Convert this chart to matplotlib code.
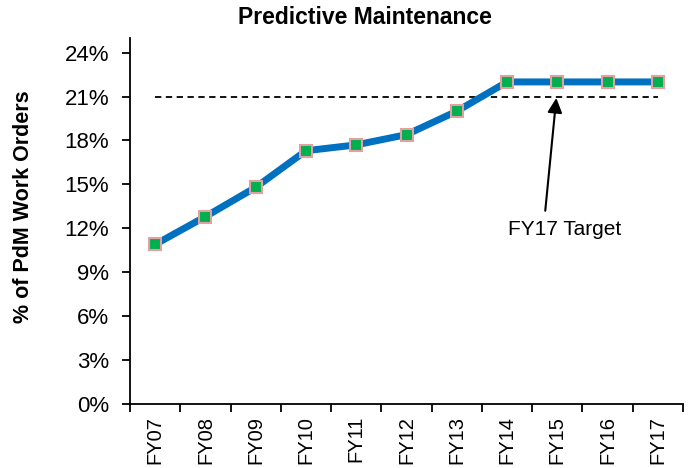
import numpy as np
import matplotlib
matplotlib.use('Agg')
import matplotlib.pyplot as plt

plt.rcParams['font.family'] = ['Liberation Sans', 'DejaVu Sans']

years = ['FY07', 'FY08', 'FY09', 'FY10', 'FY11', 'FY12', 'FY13', 'FY14', 'FY15', 'FY16', 'FY17']
pdm_pct = [10.9, 12.8, 14.8, 17.3, 17.7, 18.4, 20.0, 22.0, 22.0, 22.0, 22.0]
target_pct = 21.0
yticks = [0, 3, 6, 9, 12, 15, 18, 21, 24]

DPI = 100
fig = plt.figure(figsize=(691/DPI, 468/DPI), dpi=DPI)
ax = fig.add_axes([130/691, 64/468, 553/691, 366/468])

x = np.arange(len(years))
ax.plot(x, pdm_pct, color='#0070C0', lw=5, zorder=3,
        marker='s', markersize=8, markerfacecolor='#00B050',
        markeredgecolor='#E3A0A0', markeredgewidth=1.5)
ax.plot([x[0], x[-1]], [target_pct, target_pct], color='black', lw=1.3,
        ls=(0, (3.5, 2.5)), zorder=2)

# arrow and its label
ax.annotate('', xy=(7.98, target_pct - 0.1), xytext=(7.76, 13.2),
            arrowprops=dict(arrowstyle='-|>', color='black', lw=1.5,
                            mutation_scale=22, shrinkA=0, shrinkB=0))
ax.text(8.15, 11.9, 'FY17 Target', ha='center', va='center', fontsize=15)

ax.set_xlim(-0.5, len(years) - 0.5)
ax.set_ylim(0, 25)
ax.set_yticks(yticks)
ax.set_yticklabels([f'{v}%' for v in yticks], fontsize=16)
ax.set_xticks(x)
ax.set_xticklabels(years, rotation=90, fontsize=14.5)
ax.tick_params(axis='x', which='major', length=0, pad=8.5)
ax.set_xticks(np.arange(-0.5, len(years)), minor=True)
ax.tick_params(axis='x', which='minor', length=6, width=1.3, direction='out')
ax.tick_params(axis='y', length=6, width=1.3, direction='out', pad=9)

for side in ['top', 'right']:
    ax.spines[side].set_visible(False)
for side in ['left', 'bottom']:
    ax.spines[side].set_linewidth(1.3)

ax.set_ylabel('% of PdM Work Orders', fontsize=15.5, fontweight='bold')
ax.yaxis.set_label_coords(-0.173, 0.54)
fig.text(365/691, 1 - 17/468, 'Predictive Maintenance', ha='center', va='center',
         fontsize=16.5, fontweight='bold')

plt.savefig('out.png', dpi=DPI)
